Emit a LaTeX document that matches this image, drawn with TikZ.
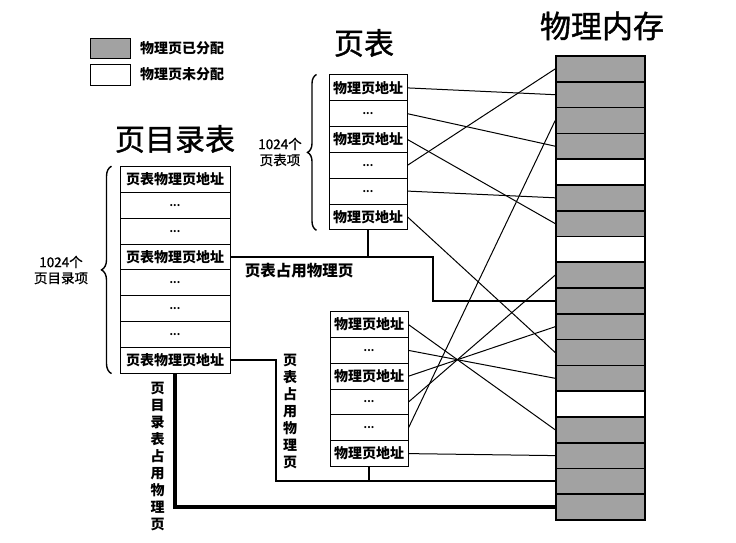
\documentclass[tikz,border=0pt]{standalone}
\usepackage{fontspec}
\setmainfont{Noto Sans CJK SC}
\newfontfamily\titlefont{Noto Sans CJK SC}[FakeBold=1.3]
\newfontfamily\notefont{Noto Sans CJK SC}[FakeBold=0.8]
\usetikzlibrary{decorations.pathreplacing}
\definecolor{memgray}{RGB}{162,162,162}
\begin{document}
\begin{tikzpicture}
[x=1pt,y=-1pt,
  celldecorate/.style={shape=rectangle,draw,line width=1pt,inner sep=0pt,minimum height=25.8pt,font=\fontsize{14}{15}\selectfont\bfseries},%
  dirdecorate/.style={celldecorate,minimum width=110pt},%
  tabdecorate/.style={celldecorate,minimum width=78pt},%
  memused/.style={shape=rectangle,draw,line width=1.6pt,inner sep=0pt,minimum width=89pt,minimum height=25.78pt,fill=memgray},%
  memfree/.style={memused,fill=white},%
  titledecorate/.style={font=\fontsize{30}{32}\titlefont},%
  labeldecorate/.style={font=\fontsize{14}{17}\selectfont\bfseries,align=center,inner sep=0pt},%
  notedecorate/.style={font=\fontsize{13.5}{16}\notefont,align=center,inner sep=0pt},%
  linedecorate/.style={-,line width=1pt},%
  occupydecorate/.style={-,line width=1.9pt},%
  diroccupydecorate/.style={-,line width=3.5pt},%
  bracedecorate/.style={decorate,decoration={brace,amplitude=10pt},line width=1.4pt}]
\useasboundingbox (0,0) rectangle (736,543);
\newcommand{\celldots}{{\fontsize{10}{10}\selectfont ...}}
%%% legend
\node (usedbox) at (110,48.3) [memused,minimum width=40pt,minimum height=20pt,line width=1pt] {};
\node (freebox) at (110,75) [memfree,minimum width=40pt,minimum height=20pt,line width=1pt] {};
\node (usedtext) at (140,48.3) [labeldecorate,anchor=west] {物理页已分配};
\node (freetext) at (140,74) [labeldecorate,anchor=west] {物理页未分配};
%%% titles
\node (dirtitle) at (175,139) [titledecorate] {页目录表};
\node (tabtitle) at (364,43) [titledecorate] {页表};
\node (memtitle) at (602,26) [titledecorate,font=\fontsize{31}{33}\titlefont] {物理内存};
%%% page directory
% entries
\node (d1) at (175,179.6) [dirdecorate] {页表物理页地址};
\node (d2) at (175,205.4) [dirdecorate] {\celldots};
\node (d3) at (175,231.2) [dirdecorate] {\celldots};
\node (d4) at (175,257.0) [dirdecorate] {页表物理页地址};
\node (d5) at (175,282.8) [dirdecorate] {\celldots};
\node (d6) at (175,308.6) [dirdecorate] {\celldots};
\node (d7) at (175,334.4) [dirdecorate] {\celldots};
\node (d8) at (175,360.2) [dirdecorate] {页表物理页地址};
\draw[bracedecorate] ([xshift=-8pt]d8.south west) -- ([xshift=-8pt]d1.north west);
\node (dircount) at (61,270) [notedecorate] {1024个\\页目录项};
%%% upper page table
% entries
\node (p1) at (368,87.9) [tabdecorate] {物理页地址};
\node (p2) at (368,113.7) [tabdecorate] {\celldots};
\node (p3) at (368,139.5) [tabdecorate] {物理页地址};
\node (p4) at (368,165.3) [tabdecorate] {\celldots};
\node (p5) at (368,191.1) [tabdecorate] {\celldots};
\node (p6) at (368,216.9) [tabdecorate] {物理页地址};
\draw[bracedecorate,decoration={brace,amplitude=9pt}] ([xshift=-12pt]p6.south west) -- ([xshift=-12pt]p1.north west);
\node (tabcount) at (280,152) [notedecorate] {1024个\\页表项};
%%% lower page table
% entries
\node (q1) at (369,324.6) [tabdecorate] {物理页地址};
\node (q2) at (369,350.4) [tabdecorate] {\celldots};
\node (q3) at (369,376.2) [tabdecorate] {物理页地址};
\node (q4) at (369,402.0) [tabdecorate] {\celldots};
\node (q5) at (369,427.8) [tabdecorate] {\celldots};
\node (q6) at (369,453.6) [tabdecorate] {物理页地址};
%%% physical memory
% frames
\node (m1) at (600.5,68.9) [memused] {};
\node (m2) at (600.5,94.7) [memused] {};
\node (m3) at (600.5,120.5) [memused] {};
\node (m4) at (600.5,146.2) [memused] {};
\node (m5) at (600.5,172.0) [memfree] {};
\node (m6) at (600.5,197.8) [memused] {};
\node (m7) at (600.5,223.6) [memused] {};
\node (m8) at (600.5,249.4) [memfree] {};
\node (m9) at (600.5,275.1) [memused] {};
\node (m10) at (600.5,300.9) [memused] {};
\node (m11) at (600.5,326.7) [memused] {};
\node (m12) at (600.5,352.5) [memused] {};
\node (m13) at (600.5,378.3) [memused] {};
\node (m14) at (600.5,404.0) [memfree] {};
\node (m15) at (600.5,429.8) [memused] {};
\node (m16) at (600.5,455.6) [memused] {};
\node (m17) at (600.5,481.4) [memused] {};
\node (m18) at (600.5,507.2) [memused] {};
%%% mappings
% upper page table to frames
\path
(p1.east) edge[linedecorate] (m2.west)
(p2.east) edge[linedecorate] (m4.west)
(p3.east) edge[linedecorate] (m7.west)
(p4.east) edge[linedecorate] (m1.west)
(p5.east) edge[linedecorate] (m6.west)
(p6.east) edge[linedecorate] (m12.west);
% lower page table to frames
\path
(q1.east) edge[linedecorate] (m15.west)
(q2.east) edge[linedecorate] (m13.west)
(q3.east) edge[linedecorate] (m11.west)
(q4.east) edge[linedecorate] (m9.west)
(q5.east) edge[linedecorate] (m3.west)
(q6.east) edge[linedecorate] (m16.west);
%%% frames used by the tables
\coordinate (ptbend) at (433,300.9);
\draw[occupydecorate] (d4.east) -| (ptbend) -- (m10.west);
\draw[occupydecorate] (p6.south) -- (p6.south |- d4.east);
\node (ptlabel) at (299,271) [labeldecorate,font=\fontsize{15.5}{17}\selectfont\bfseries] {页表占用物理页};
\coordinate (qtbend) at (276,481.4);
\draw[occupydecorate] (d8.east) -| (qtbend) -- (m17.west);
\draw[occupydecorate] (q6.south) -- (q6.south |- m17.west);
\node (qtlabel) at (290,411) [labeldecorate] {页\\表\\占\\用\\物\\理\\页};
\draw[diroccupydecorate] (d8.south) |- (m18.west);
\node (dirlabel) at (157.5,456) [labeldecorate] {页\\目\\录\\表\\占\\用\\物\\理\\页};
\end{tikzpicture}
\end{document}
